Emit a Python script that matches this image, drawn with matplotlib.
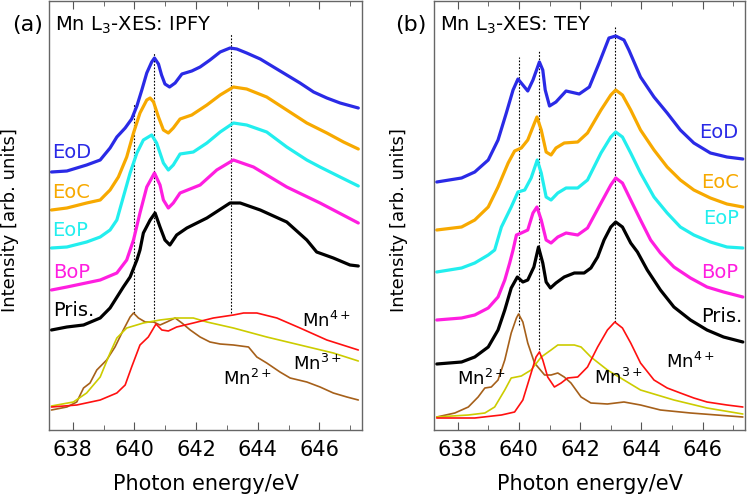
import matplotlib
matplotlib.use('Agg')
import matplotlib.pyplot as plt

# ---------------- (a) IPFY ----------------
a_eod_e = [637.31, 637.81, 638.45, 638.89, 639.21, 639.43, 639.70, 639.91, 640.08, 640.24, 640.40, 640.56, 640.65,
           640.78, 640.88, 640.99, 641.14, 641.32, 641.54, 641.86, 642.13, 642.45, 642.78, 643.10, 643.32, 643.64,
           644.08, 644.51, 644.94, 645.37, 645.81, 646.24, 646.67, 647.26]
a_eod_i = [258, 259, 265, 270, 282, 293, 302, 311, 324, 340, 357, 368, 372, 366, 355, 346, 343, 347, 356, 359, 363,
           370, 378, 382, 381, 377, 371, 363, 355, 347, 338, 332, 327, 322]

a_eoc_e = [637.31, 637.81, 638.45, 638.89, 639.21, 639.48, 639.75, 639.97, 640.18, 640.40, 640.51, 640.62, 640.78,
           640.94, 641.10, 641.26, 641.48, 641.86, 642.35, 642.78, 643.21, 643.64, 644.29, 644.94, 645.59, 646.24,
           646.78, 647.26]
a_eoc_i = [220, 222, 227, 230, 240, 253, 273, 297, 317, 330, 332, 328, 313, 300, 297, 302, 311, 315, 325, 335, 343,
           341, 333, 320, 307, 297, 288, 281]

a_eop_e = [637.31, 637.81, 638.45, 638.89, 639.21, 639.43, 639.64, 639.86, 640.08, 640.29, 640.56, 640.72, 640.94,
           641.10, 641.26, 641.48, 641.91, 642.35, 642.78, 643.21, 643.64, 644.29, 644.94, 645.59, 646.02, 646.67,
           647.26]
a_eop_i = [182, 183, 188, 193, 200, 210, 233, 257, 277, 290, 295, 287, 267, 260, 265, 276, 278, 287, 298, 307, 305,
           298, 283, 270, 263, 253, 244]

a_bop_e = [637.31, 637.81, 638.89, 639.43, 639.75, 639.86, 639.97, 640.18, 640.40, 640.65, 640.83, 640.94, 641.10,
           641.26, 641.48, 642.13, 642.67, 643.21, 643.86, 644.94, 646.02, 647.26]
a_bop_i = [140, 143, 150, 157, 170, 180, 190, 217, 243, 257, 245, 230, 222, 227, 237, 245, 260, 270, 263, 243, 227,
           207]

a_pris_e = [637.31, 637.81, 638.35, 638.89, 639.21, 639.64, 639.86, 640.08, 640.18, 640.29, 640.51, 640.67, 640.83,
            640.99, 641.15, 641.37, 641.70, 642.35, 643.10, 643.43, 644.08, 644.94, 645.59, 645.91, 646.45, 646.99,
            647.26]
a_pris_i = [100, 103, 105, 112, 122, 143, 153, 170, 180, 197, 210, 217, 203, 190, 185, 195, 202, 212, 227, 227, 220,
            208, 190, 178, 172, 165, 164]

a_mn2_e = [637.31, 637.81, 638.13, 638.35, 638.56, 638.78, 639.10, 639.37, 639.64, 639.86, 639.97, 640.13, 640.35,
           640.62, 640.83, 641.05, 641.32, 641.54, 641.81, 642.13, 642.45, 642.78, 643.21, 643.70, 643.97, 644.29,
           644.72, 645.05, 645.59, 646.02, 646.45, 646.89, 647.26]
a_mn2_i = [20, 23, 28, 42, 47, 60, 70, 83, 100, 113, 117, 112, 108, 108, 105, 108, 112, 107, 100, 93, 88, 86, 85, 83,
           73, 67, 58, 52, 48, 43, 37, 33, 30]

a_mn3_e = [637.31, 638.02, 638.45, 638.89, 639.21, 639.43, 639.75, 640.29, 640.83, 641.37, 641.91, 642.35, 643.21,
           644.29, 645.37, 646.45, 647.26]
a_mn3_i = [24, 28, 37, 53, 77, 92, 102, 107, 110, 112, 112, 108, 102, 93, 85, 77, 69]

a_mn4_e = [637.31, 638.13, 638.89, 639.43, 639.70, 639.91, 640.18, 640.45, 640.70, 640.89, 641.10, 641.37, 641.91,
           642.56, 643.21, 643.54, 643.97, 644.62, 645.37, 646.24, 647.26]
a_mn4_i = [23, 25, 30, 37, 45, 63, 85, 93, 106, 100, 99, 103, 107, 112, 115, 117, 117, 112, 102, 90, 80]

a_vlines = [640.0, 640.65, 643.14]
a_vline_lo = [117, 108, 117]
a_vline_hi = [327, 377, 397]

# ---------------- (b) TEY ----------------
b_eod_e = [637.32, 638.13, 638.56, 639.00, 639.32, 639.59, 639.81, 639.97, 640.13, 640.29, 640.46, 640.67, 640.78,
           640.86, 641.00, 641.21, 641.54, 641.97, 642.30, 642.62, 642.94, 643.16, 643.43, 643.59, 643.97,
           644.41, 644.84, 645.27, 645.71, 646.25, 646.79, 647.31]
b_eod_i = [248, 252, 258, 270, 290, 317, 340, 351, 345, 339, 350, 368, 360, 340, 324, 328, 339, 336, 343, 367, 392,
           394, 390, 380, 353, 333, 317, 300, 287, 277, 273, 271]

b_eoc_e = [637.32, 638.13, 638.56, 639.00, 639.32, 639.65, 639.86, 640.08, 640.29, 640.51, 640.59, 640.73, 640.89,
           641.05, 641.21, 641.48, 641.92, 642.24, 642.68, 643.00, 643.16, 643.38, 643.65, 643.97, 644.41, 644.84,
           645.27, 645.71, 646.25, 646.79, 647.31]
b_eoc_i = [200, 203, 210, 223, 243, 267, 279, 282, 290, 307, 313, 300, 278, 275, 282, 287, 288, 297, 320, 335, 340,
           335, 320, 300, 280, 263, 250, 240, 232, 226, 223]

b_eop_e = [637.32, 638.13, 638.56, 639.00, 639.21, 639.43, 639.75, 639.97, 640.19, 640.40, 640.60, 640.73, 640.89,
           641.05, 641.27, 641.54, 641.92, 642.24, 642.68, 643.00, 643.16, 643.38, 643.65, 643.97, 644.41, 644.84,
           645.27, 645.71, 646.25, 646.79, 647.31]
b_eop_i = [158, 162, 167, 175, 180, 203, 223, 238, 240, 252, 270, 257, 233, 230, 237, 242, 242, 250, 277, 293, 298,
           293, 277, 257, 233, 217, 203, 195, 188, 183, 182]

b_bop_e = [637.32, 638.13, 638.56, 639.00, 639.32, 639.54, 639.70, 639.81, 639.92, 640.08, 640.29, 640.46, 640.59,
           640.73, 640.89, 641.05, 641.27, 641.54, 641.92, 642.24, 642.68, 643.00, 643.16, 643.38, 643.65, 643.97,
           644.30, 644.62, 645.06, 645.60, 646.14, 646.68, 647.31]
b_bop_i = [110, 112, 115, 122, 133, 150, 167, 180, 195, 197, 200, 217, 223, 210, 190, 187, 193, 197, 195, 202, 227,
           245, 252, 247, 230, 210, 190, 177, 163, 152, 143, 138, 133]

b_pris_e = [637.32, 638.13, 638.56, 639.00, 639.32, 639.54, 639.75, 639.95, 640.13, 640.29, 640.49, 640.64, 640.78,
            640.89, 641.03, 641.21, 641.48, 641.81, 642.13, 642.35, 642.57, 642.78, 643.00, 643.16, 643.38, 643.65,
            643.87, 644.19, 644.62, 645.06, 645.60, 646.14, 646.68, 647.31]
b_pris_i = [66, 68, 73, 83, 100, 120, 142, 153, 148, 150, 163, 183, 167, 148, 142, 147, 153, 157, 157, 162, 173, 190,
            203, 208, 203, 187, 178, 160, 140, 123, 110, 100, 93, 88]

b_mn2_e = [637.32, 637.91, 638.35, 638.67, 638.89, 639.10, 639.32, 639.54, 639.75, 639.92, 639.99, 640.13, 640.29,
           640.51, 640.84, 641.05, 641.27, 641.48, 641.70, 642.03, 642.35, 642.89, 643.43, 643.97, 644.62, 645.60,
           647.31]
b_mn2_i = [13, 17, 23, 33, 42, 43, 50, 70, 97, 112, 116, 108, 87, 67, 55, 55, 57, 53, 47, 33, 27, 26, 28, 25, 20, 17,
           13]

b_mn3_e = [637.32, 638.35, 638.89, 639.21, 639.54, 639.75, 640.08, 640.40, 640.73, 641.05, 641.27, 641.81, 642.03,
           642.35, 642.89, 643.43, 643.97, 645.06, 646.14, 647.31]
b_mn3_i = [13, 15, 17, 23, 40, 52, 54, 60, 73, 80, 85, 85, 83, 73, 60, 50, 40, 30, 22, 16]

b_mn4_e = [637.32, 638.56, 639.43, 639.86, 640.13, 640.40, 640.56, 640.67, 640.78, 640.94, 641.16, 641.38, 641.59,
           641.92, 642.24, 642.57, 642.89, 643.13, 643.38, 643.65, 643.97, 644.41, 644.84, 645.27, 645.71, 646.14,
           646.79, 647.31]
b_mn4_i = [12, 12, 15, 18, 30, 57, 73, 78, 70, 53, 43, 47, 52, 53, 63, 83, 100, 108, 102, 87, 67, 50, 42, 37, 32, 28,
           25, 23]

b_vlines = [640.0, 640.67, 643.14]
b_vline_lo = [105, 77, 108]
b_vline_hi = [373, 380, 403]

c_eod = '#2a2ae6'
c_eoc = '#f7a900'
c_eop = '#22eeee'
c_bop = '#ff1ee0'
c_pris = '#000000'
c_mn2 = '#a6601a'
c_mn3 = '#cccc00'
c_mn4 = '#ff1010'

plt.rcParams['font.family'] = 'DejaVu Sans'
plt.rcParams['mathtext.fontset'] = 'dejavusans'
plt.rcParams['lines.solid_joinstyle'] = 'round'
plt.rcParams['lines.solid_capstyle'] = 'round'

fig = plt.figure(figsize=(7.49, 5.03), dpi=100)
ax1 = fig.add_axes([49 / 749, 1 - 430 / 503, 313 / 749, 429 / 503])
ax2 = fig.add_axes([434 / 749, 1 - 430 / 503, 311 / 749, 429 / 503])


def style_axis(ax, title):
    ax.set_xlim(637.23, 647.38)
    ax.set_ylim(0, 429)
    ax.set_xticks([638, 640, 642, 644, 646])
    ax.set_xticks(range(638, 648), minor=True)
    ax.set_yticks([])
    ax.tick_params(axis='x', which='both', direction='in', top=True, labelsize=15, pad=7, color='#555555')
    ax.tick_params(axis='x', which='major', length=6)
    ax.tick_params(axis='x', which='minor', length=3.5)
    for s in ax.spines.values():
        s.set_color('#666666')
        s.set_linewidth(1.0)
    ax.set_xlabel('Photon energy/eV', fontsize=15, labelpad=10)
    ax.set_ylabel('Intensity [arb. units]', fontsize=13)
    ax.text(0.02, 0.944, title, transform=ax.transAxes, fontsize=14, va='center', ha='left')


style_axis(ax1, 'Mn L$_3$-XES: IPFY')
style_axis(ax2, 'Mn L$_3$-XES: TEY')
ax1.yaxis.set_label_coords(-0.097, 0.49)
ax2.yaxis.set_label_coords(-0.085, 0.49)
fig.text(12 / 749, 1 - 25 / 503, '(a)', fontsize=16, va='center', ha='left')
fig.text(395 / 749, 1 - 25 / 503, '(b)', fontsize=16, va='center', ha='left')

lw = 2.3
lw_ref = 1.2

# panel (a)
for x, lo, hi in zip(a_vlines, a_vline_lo, a_vline_hi):
    ax1.plot([x, x], [lo, hi], color='black', lw=0.8, ls=(0, (1.5, 1.5)))
ax1.plot(a_mn2_e, a_mn2_i, color=c_mn2, lw=lw_ref)
ax1.plot(a_mn3_e, a_mn3_i, color=c_mn3, lw=lw_ref)
ax1.plot(a_mn4_e, a_mn4_i, color=c_mn4, lw=lw_ref)
ax1.plot(a_pris_e, a_pris_i, color=c_pris, lw=lw)
ax1.plot(a_bop_e, a_bop_i, color=c_bop, lw=lw)
ax1.plot(a_eop_e, a_eop_i, color=c_eop, lw=lw)
ax1.plot(a_eoc_e, a_eoc_i, color=c_eoc, lw=lw)
ax1.plot(a_eod_e, a_eod_i, color=c_eod, lw=lw)

ax1.text(637.33, 277, 'EoD', color=c_eod, fontsize=14, va='center', ha='left')
ax1.text(637.33, 237, 'EoC', color=c_eoc, fontsize=14, va='center', ha='left')
ax1.text(637.33, 200, 'EoP', color=c_eop, fontsize=14, va='center', ha='left')
ax1.text(637.35, 158, 'BoP', color=c_bop, fontsize=14, va='center', ha='left')
ax1.text(637.35, 120, 'Pris.', color=c_pris, fontsize=14, va='center', ha='left')
ax1.text(645.43, 103, 'Mn$^{4+}$', fontsize=13, va='baseline', ha='left')
ax1.text(645.15, 60, 'Mn$^{3+}$', fontsize=13, va='baseline', ha='left')
ax1.text(642.86, 45, 'Mn$^{2+}$', fontsize=13, va='baseline', ha='left')

# panel (b)
for x, lo, hi in zip(b_vlines, b_vline_lo, b_vline_hi):
    ax2.plot([x, x], [lo, hi], color='black', lw=0.8, ls=(0, (1.5, 1.5)))
ax2.plot(b_mn2_e, b_mn2_i, color=c_mn2, lw=lw_ref)
ax2.plot(b_mn3_e, b_mn3_i, color=c_mn3, lw=lw_ref)
ax2.plot(b_mn4_e, b_mn4_i, color=c_mn4, lw=lw_ref)
ax2.plot(b_pris_e, b_pris_i, color=c_pris, lw=lw)
ax2.plot(b_bop_e, b_bop_i, color=c_bop, lw=lw)
ax2.plot(b_eop_e, b_eop_i, color=c_eop, lw=lw)
ax2.plot(b_eoc_e, b_eoc_i, color=c_eoc, lw=lw)
ax2.plot(b_eod_e, b_eod_i, color=c_eod, lw=lw)

ax2.text(647.17, 297, 'EoD', color=c_eod, fontsize=14, va='center', ha='right')
ax2.text(647.17, 248, 'EoC', color=c_eoc, fontsize=14, va='center', ha='right')
ax2.text(647.17, 212, 'EoP', color=c_eop, fontsize=14, va='center', ha='right')
ax2.text(647.17, 157, 'BoP', color=c_bop, fontsize=14, va='center', ha='right')
ax2.text(647.28, 113, 'Pris.', color=c_pris, fontsize=14, va='center', ha='right')
ax2.text(637.97, 45, 'Mn$^{2+}$', fontsize=13, va='baseline', ha='left')
ax2.text(642.46, 46, 'Mn$^{3+}$', fontsize=13, va='baseline', ha='left')
ax2.text(644.79, 62, 'Mn$^{4+}$', fontsize=13, va='baseline', ha='left')

fig.savefig('out.png', dpi=100)
